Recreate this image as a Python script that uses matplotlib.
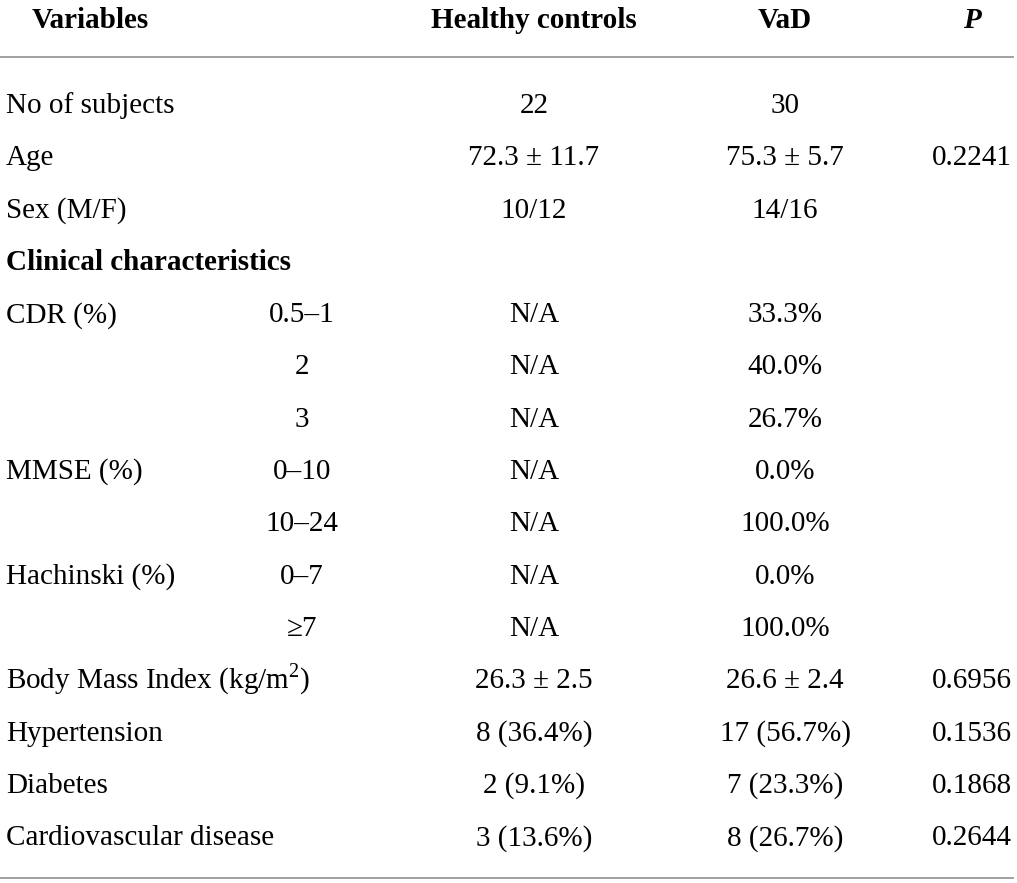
import matplotlib
matplotlib.use("Agg")
import matplotlib.pyplot as plt

# Table content
header = ["Variables", "Healthy controls", "VaD", "P"]
labels = ["No of subjects", "Age", "Sex (M/F)", "Clinical characteristics",
          "CDR (%)", "", "", "MMSE (%)", "", "Hachinski (%)", "",
          "Body Mass Index (kg/m$^2$)", "Hypertension", "Diabetes",
          "Cardiovascular disease"]
sublabels = ["", "", "", "", "0.5\u20131", "2", "3", "0\u201310", "10\u201324",
             "0\u20137", "\u22657", "", "", "", ""]
healthy = ["22", "72.3 \u00b1 11.7", "10/12", "", "N/A", "N/A", "N/A", "N/A",
           "N/A", "N/A", "N/A", "26.3 \u00b1 2.5", "8 (36.4%)", "2 (9.1%)",
           "3 (13.6%)"]
vad = ["30", "75.3 \u00b1 5.7", "14/16", "", "33.3%", "40.0%", "26.7%", "0.0%",
       "100.0%", "0.0%", "100.0%", "26.6 \u00b1 2.4", "17 (56.7%)", "7 (23.3%)",
       "8 (26.7%)"]
pvals = ["", "0.2241", "", "", "", "", "", "", "", "", "", "0.6956", "0.1536",
         "0.1868", "0.2644"]
bold_rows = [3]

plt.rcParams['font.family'] = ['Liberation Serif', 'DejaVu Serif']
plt.rcParams['mathtext.fontset'] = 'custom'
plt.rcParams['mathtext.rm'] = 'Liberation Serif'

fig = plt.figure(figsize=(10.17, 8.83), dpi=100)
ax = fig.add_axes([0, 0, 1, 1])
ax.set_xlim(0, 1017)
ax.set_ylim(883, 0)
ax.axis("off")

fs = 21
col_x = [6, 302, 534, 785, 972]
y_head = 28
y0 = 113
dy = 52.3

ax.text(32, y_head, header[0], fontsize=fs, fontweight="bold", ha="left", va="baseline")
ax.text(col_x[2], y_head, header[1], fontsize=fs, fontweight="bold", ha="center", va="baseline")
ax.text(col_x[3], y_head, header[2], fontsize=fs, fontweight="bold", ha="center", va="baseline")
ax.text(col_x[4], y_head, header[3], fontsize=fs, fontweight="bold", fontstyle="italic",
        ha="center", va="baseline")

ax.plot([0, 1013], [57, 57], color="#999999", lw=1.3)
ax.plot([0, 1013], [878, 878], color="#999999", lw=1.3)

for i in range(len(labels)):
    y = y0 + i * dy
    w = "bold" if i in bold_rows else "normal"
    ax.text(col_x[0], y, labels[i], fontsize=fs, fontweight=w, ha="left", va="baseline")
    ax.text(col_x[1], y, sublabels[i], fontsize=fs, ha="center", va="baseline")
    ax.text(col_x[2], y, healthy[i], fontsize=fs, ha="center", va="baseline")
    ax.text(col_x[3], y, vad[i], fontsize=fs, ha="center", va="baseline")
    ax.text(col_x[4], y, pvals[i], fontsize=fs, ha="center", va="baseline")

fig.savefig("out.png", dpi=100)
